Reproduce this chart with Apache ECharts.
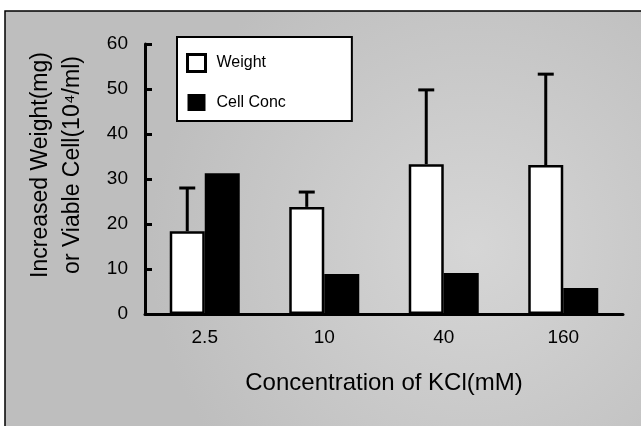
<!DOCTYPE html>
<html>
<head>
<meta charset="utf-8">
<script src="https://cdn.jsdelivr.net/npm/echarts@6.0.0/dist/echarts.min.js"></script>
<style>
html,body{margin:0;padding:0;background:#fff;}
#chart{width:641px;height:426px;}
</style>
</head>
<body>
<div id="chart"></div>
<script>
// ---- data ----
const categories = ['2.5', '10', '40', '160'];
const weight = [18.4, 23.8, 33.3, 33.1];
const weightErr = [9.6, 3.3, 16.5, 20.2];
const cellConc = [31.3, 8.9, 9.1, 5.8];
const yTicks = { min: 0, max: 60, interval: 10 };

const FONT = '"Liberation Sans", Arial, sans-serif';
const BAR_W = 35;

const chart = echarts.init(document.getElementById('chart'), null, { renderer: 'canvas' });

const option = {
  backgroundColor: '#fff',
  animation: false,
  textStyle: { fontFamily: FONT, color: '#000' },
  graphic: [{
    type: 'rect',
    z: -10,
    silent: true,
    shape: { x: 5, y: 11, width: 650, height: 430 },
    style: {
      fill: new echarts.graphic.RadialGradient(0.72, 0.55, 0.75, [
        { offset: 0, color: '#d6d6d6' },
        { offset: 1, color: '#bebebe' }
      ]),
      stroke: '#000',
      lineWidth: 1.5
    }
  }],
  grid: { left: 145, right: 18, top: 44, bottom: 112 },
  legend: {
    orient: 'vertical',
    left: 177,
    top: 37,
    backgroundColor: '#fff',
    borderColor: '#000',
    borderWidth: 2,
    borderRadius: 0,
    padding: [16, 66, 10, 9],
    itemWidth: 18,
    itemHeight: 17,
    itemGap: 21,
    textStyle: { fontFamily: FONT, fontSize: 16, color: '#000', padding: [0, 0, 0, 6] },
    data: [
      { name: 'Weight', icon: 'rect', itemStyle: { color: '#fff', borderColor: '#000', borderWidth: 3 } },
      { name: 'Cell Conc', icon: 'rect', itemStyle: { color: '#000', borderColor: '#000', borderWidth: 0 } }
    ]
  },
  xAxis: {
    type: 'category',
    data: categories,
    boundaryGap: true,
    name: 'Concentration of KCl(mM)',
    nameLocation: 'middle',
    nameGap: 57,
    nameTextStyle: { fontFamily: FONT, fontSize: 24, color: '#000' },
    axisLine: { lineStyle: { color: '#000', width: 3 } },
    axisTick: { inside: true, length: 7, lineStyle: { color: '#000', width: 2.5 } },
    axisLabel: { fontFamily: FONT, fontSize: 19, color: '#000', margin: 14 }
  },
  yAxis: {
    type: 'value',
    min: yTicks.min,
    max: yTicks.max,
    interval: yTicks.interval,
    name: 'Increased Weight(mg)\nor Viable Cell(10\u2074/ml)',
    nameLocation: 'middle',
    nameGap: 56,
    nameRotate: 90,
    nameTextStyle: { fontFamily: FONT, fontSize: 23, color: '#000', lineHeight: 32, padding: [0, 0, 0, 28] },
    splitLine: { show: false },
    axisLine: { show: true, lineStyle: { color: '#000', width: 3 } },
    axisTick: { show: true, inside: true, length: 7, lineStyle: { color: '#000', width: 3 } },
    axisLabel: { fontFamily: FONT, fontSize: 19, color: '#000', margin: 17 }
  },
  series: [
    {
      name: 'Weight',
      type: 'bar',
      barWidth: BAR_W,
      barGap: '0%',
      data: weight,
      itemStyle: { color: '#fff', borderColor: '#000', borderWidth: 2.5 },
      z: 2
    },
    {
      name: 'Cell Conc',
      type: 'bar',
      barWidth: BAR_W,
      barGap: '0%',
      data: cellConc,
      itemStyle: { color: '#000' },
      z: 2
    },
    {
      name: 'Weight error',
      type: 'custom',
      z: 3,
      data: weight.map((v, i) => [i, v, weightErr[i]]),
      encode: { x: 0, y: 1 },
      renderItem: function (params, api) {
        const i = api.value(0);
        const v = api.value(1);
        const e = api.value(2);
        const base = api.coord([i, v]);
        const top = api.coord([i, v + e]);
        const x = base[0] - BAR_W / 2;
        return {
          type: 'group',
          children: [
            { type: 'line', shape: { x1: x, y1: base[1], x2: x, y2: top[1] }, style: { stroke: '#000', lineWidth: 3 } },
            { type: 'line', shape: { x1: x - 8, y1: top[1], x2: x + 8, y2: top[1] }, style: { stroke: '#000', lineWidth: 3 } }
          ]
        };
      }
    }
  ]
};

chart.setOption(option);
</script>
</body>
</html>
